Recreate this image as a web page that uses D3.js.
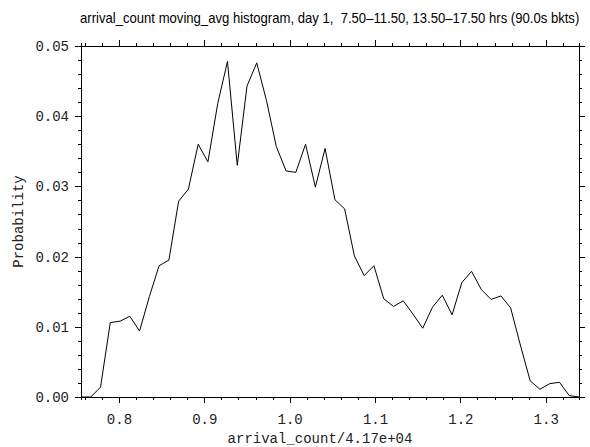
<!DOCTYPE html>
<html lang="en">
<head>
<meta charset="UTF-8">
<title>arrival_count moving_avg histogram</title>
<script src="https://cdn.jsdelivr.net/npm/d3@7"></script>
<style>
  body { margin: 0; background: #fff; }
  .tick text { font-family: "Liberation Mono", "Courier New", monospace; font-size: 14px; fill: #222; }
  .domain, .tick line { stroke: #000; shape-rendering: crispEdges; }
  .lbl { font-family: "Liberation Mono", "Courier New", monospace; font-size: 14px; fill: #222; }
  .title { font-family: "Liberation Sans Narrow", "Liberation Sans", Arial, sans-serif; font-size: 14px; fill: #000; white-space: pre; }
</style>
</head>
<body>
<svg id="chart" width="590" height="447"></svg>
<script>
// bin centres (arrival_count / 4.17e+04)
const binCenters = [
  0.7555, 0.7669, 0.7784, 0.7898, 0.8013, 0.8127, 0.8241, 0.8356, 0.8470, 0.8585,
  0.8699, 0.8813, 0.8928, 0.9042, 0.9157, 0.9271, 0.9386, 0.9500, 0.9614, 0.9729,
  0.9843, 0.9958, 1.0072, 1.0186, 1.0301, 1.0415, 1.0530, 1.0644, 1.0758, 1.0873,
  1.0987, 1.1102, 1.1216, 1.1331, 1.1445, 1.1559, 1.1674, 1.1788, 1.1903, 1.2017,
  1.2131, 1.2246, 1.2360, 1.2475, 1.2589, 1.2703, 1.2818, 1.2932, 1.3047, 1.3161,
  1.3276, 1.3390
]
const probability = [
  0, 0, 0.0014, 0.0106, 0.0108, 0.0115, 0.0094, 0.0143, 0.0187, 0.0195,
  0.0279, 0.0296, 0.0360, 0.0335, 0.0418, 0.0478, 0.0330, 0.0443, 0.0476, 0.0422,
  0.0357, 0.0322, 0.0320, 0.0360, 0.0299, 0.0354, 0.0281, 0.0268, 0.0201, 0.0173,
  0.0187, 0.0140, 0.0129, 0.0137, 0.0118, 0.0098, 0.0128, 0.0145, 0.0117, 0.0163,
  0.0179, 0.0153, 0.0139, 0.0144, 0.0127, 0.0074, 0.0023, 0.0011, 0.0019, 0.0021,
  0.0002, 0
]
const xMajorTicks = [0.8, 0.9, 1.0, 1.1, 1.2, 1.3]
const yMajorTicks = [0, 0.01, 0.02, 0.03, 0.04, 0.05]
const xDomain = [0.7555, 1.339]
const yDomain = [0, 0.05]

const titleText = 'arrival_count moving_avg histogram, day 1,  7.50\u201311.50, 13.50\u201317.50 hrs (90.0s bkts)'
const xLabel = 'arrival_count/4.17e+04'
const yLabel = 'Probability'

const plotLeft = 81, plotRight = 579, plotTop = 46, plotBottom = 397

const svg = d3.select('#chart')

const x = d3.scaleLinear().domain(xDomain).range([plotLeft, plotRight])
const y = d3.scaleLinear().domain(yDomain).range([plotBottom, plotTop])

const xMinor = d3.range(0.76, 1.335, 0.02).filter(v => !xMajorTicks.some(t => Math.abs(t - v) < 1e-6))
const yMinor = d3.range(0, 0.0501, 0.002).filter(v => !yMajorTicks.some(t => Math.abs(t - v) < 1e-6))

// minor ticks on all four sides
svg.append('g').attr('transform', `translate(0,${plotBottom})`)
  .call(d3.axisBottom(x).tickValues(xMinor).tickSize(3).tickFormat(''))
svg.append('g').attr('transform', `translate(0,${plotTop})`)
  .call(d3.axisTop(x).tickValues(xMinor).tickSize(3).tickFormat(''))
svg.append('g').attr('transform', `translate(${plotLeft},0)`)
  .call(d3.axisLeft(y).tickValues(yMinor).tickSize(3).tickFormat(''))
svg.append('g').attr('transform', `translate(${plotRight},0)`)
  .call(d3.axisRight(y).tickValues(yMinor).tickSize(3).tickFormat(''))

// major ticks
svg.append('g').attr('transform', `translate(0,${plotBottom})`)
  .call(d3.axisBottom(x).tickValues(xMajorTicks).tickSizeInner(6).tickSizeOuter(0).tickPadding(11).tickFormat(d3.format('.1f')))
svg.append('g').attr('transform', `translate(0,${plotTop})`)
  .call(d3.axisTop(x).tickValues(xMajorTicks).tickSizeInner(6).tickSizeOuter(0).tickFormat(''))
svg.append('g').attr('transform', `translate(${plotLeft},0)`)
  .call(d3.axisLeft(y).tickValues(yMajorTicks).tickSizeInner(6).tickSizeOuter(0).tickPadding(6).tickFormat(d3.format('.2f')))
svg.append('g').attr('transform', `translate(${plotRight},0)`)
  .call(d3.axisRight(y).tickValues(yMajorTicks).tickSizeInner(6).tickSizeOuter(0).tickFormat(''))

svg.selectAll('g').attr('font-family', null).attr('font-size', null)

// the curve
const line = d3.line()
  .x((d, i) => x(binCenters[i]))
  .y(d => y(d))

svg.append('path')
  .datum(probability)
  .attr('d', line)
  .attr('fill', 'none')
  .attr('stroke', '#000')
  .attr('stroke-width', 1)

// labels
// title is squeezed horizontally so it looks like the narrow font of the original
const title = svg.append('text')
  .attr('class', 'title')
  .attr('x', 0).attr('y', 0)
  .text(titleText)
const natural = title.node().getComputedTextLength()
title.attr('transform', `translate(80,23) scale(${500 / natural},1)`)

svg.append('text')
  .attr('class', 'lbl')
  .attr('x', 320).attr('y', 443)
  .attr('text-anchor', 'middle')
  .text(xLabel)

svg.append('text')
  .attr('class', 'lbl')
  .attr('transform', `translate(23,${(plotTop + plotBottom) / 2}) rotate(-90)`)
  .attr('text-anchor', 'middle')
  .text(yLabel)
</script>
</body>
</html>
